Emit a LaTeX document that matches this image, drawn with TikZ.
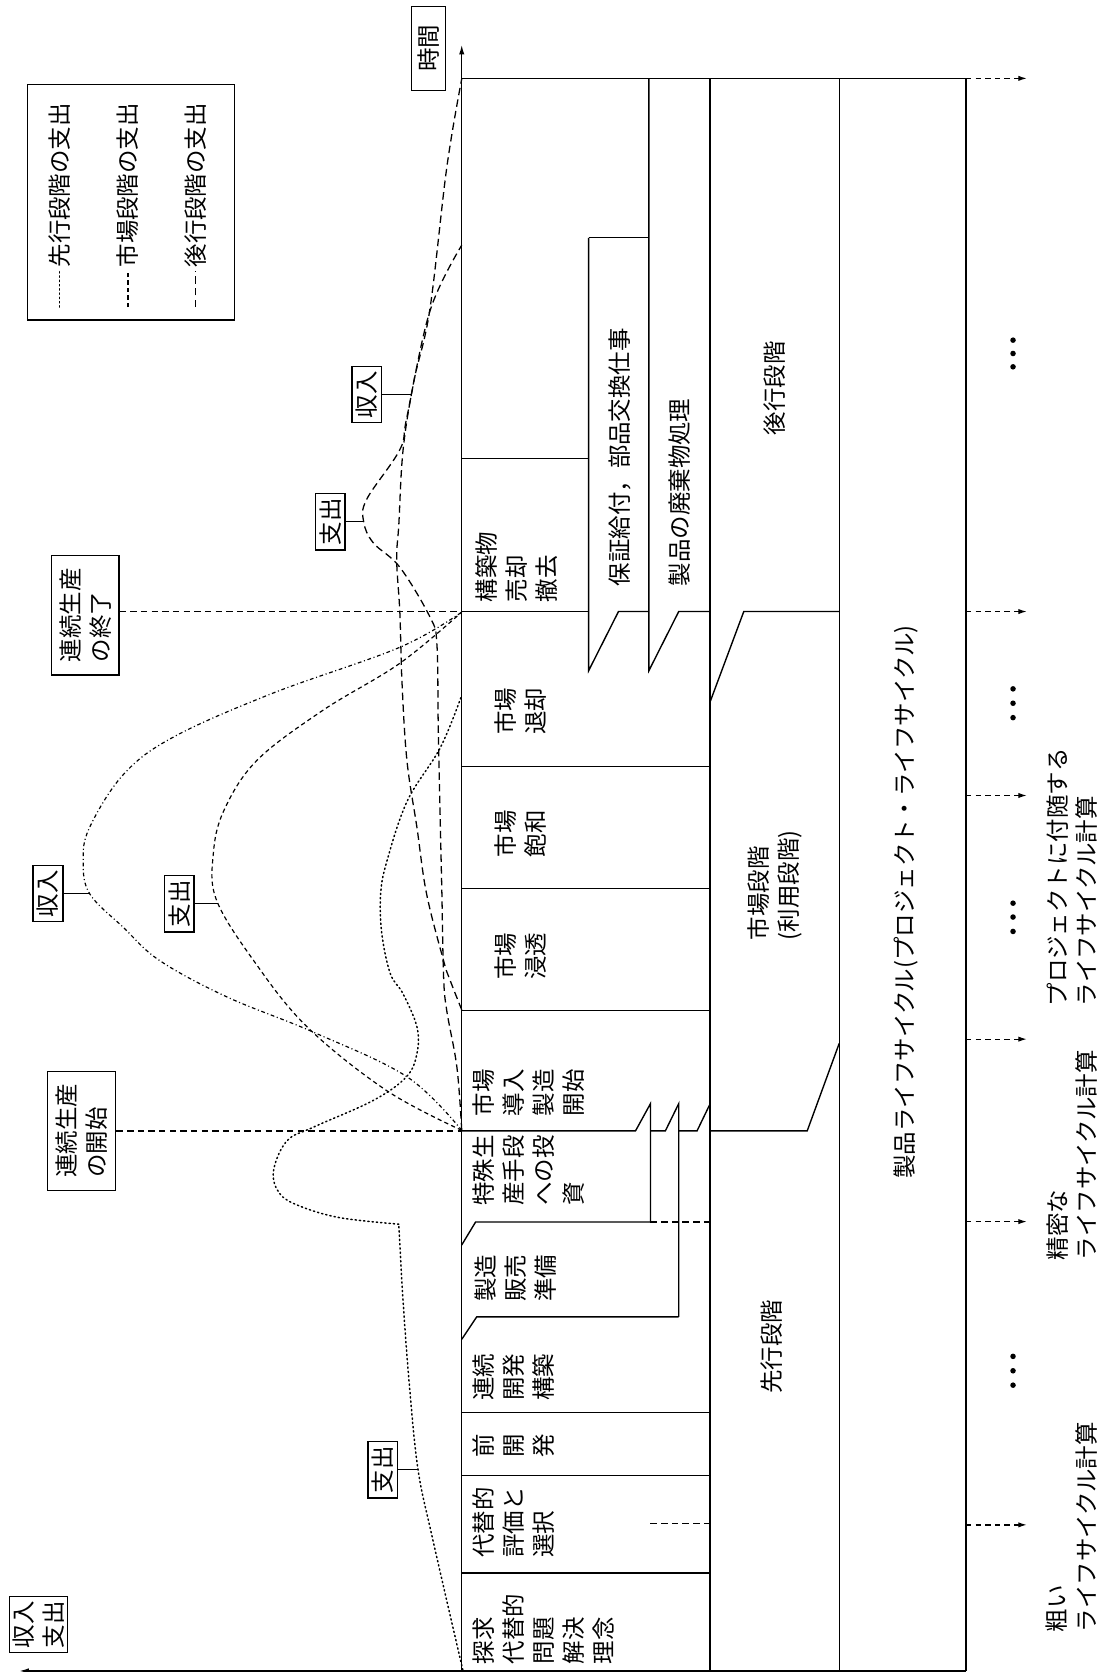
\documentclass[tikz,border=0pt]{standalone}
\usepackage{fontspec}
\setmainfont{Noto Sans CJK JP}
\usetikzlibrary{arrows.meta}
\begin{document}
\begin{tikzpicture}[x=1pt,y=-1pt,
  every node/.style={font=\fontsize{22}{28}\selectfont, inner sep=0pt},
  vlab/.style={rotate=90, align=left, anchor=north west},
  lbox/.style={draw, line width=1.2pt, rotate=90, minimum width=53pt, minimum height=28pt},
  frame/.style={line width=1.3pt},
  pre/.style={line width=1.4pt, dash pattern=on 1.2pt off 2.8pt, line cap=round},
  mkr/.style={line width=1.1pt, dash pattern=on 3.5pt off 2.5pt on 1pt off 2.5pt},
  mke/.style={line width=1.1pt, dash pattern=on 4pt off 3pt},
  post/.style={line width=1.2pt, dash pattern=on 7pt off 4pt},
  evline/.style={line width=1.3pt, dash pattern=on 6pt off 4pt},
  outarrow/.style={line width=1.2pt, dash pattern=on 5pt off 4pt, -{Latex[length=8pt,width=5pt]}},
  leader/.style={line width=1pt}]
\useasboundingbox (0,0) rectangle (1033,1568);

% ---------- structure ----------
\draw[frame] (433,73.5) -- (906,73.5);
\draw[frame] (433,1567) -- (906,1567);
\draw[frame,-{Latex[length=9pt,width=5pt]}] (433,1567) -- (433,42);
\draw[frame,-{Latex[length=9pt,width=5pt]}] (433,1567) -- (18,1567);
\draw[frame] (666,73.5) -- (666,1567);
\draw[frame] (787,73.5) -- (787,1567);
\draw[frame] (906,73.5) -- (906,1567);
\draw[frame] (608.5,73.5) -- (608.5,629) -- (636.5,573.5) -- (666,573.5);
\draw[frame] (552,223) -- (608.5,223);
\draw[frame] (552,223) -- (552,629) -- (580,573.5) -- (608.5,573.5);
\draw[frame] (433,430) -- (552,430);
\draw[frame] (433,573.5) -- (552,573.5);
\draw[frame] (666,658) -- (697.5,573.5) -- (787,573.5);
\draw[frame] (433,719) -- (666,719);
\draw[frame] (433,833) -- (666,833);
\draw[frame] (433,947.5) -- (666,947.5);
\draw[frame] (433,1060.5) -- (596,1060.5) -- (610,1035) -- (610,1146);
\draw[frame] (610,1060.5) -- (624,1060.5) -- (636.5,1035) -- (636.5,1235);
\draw[frame] (636.5,1060.5) -- (653.7,1060.5) -- (666,1035);
\draw[frame] (666,1060.5) -- (757,1060.5) -- (787,978.5);
\draw[frame] (610,1146) -- (446,1146) -- (433,1167.5);
\draw[evline] (610,1146) -- (666,1146);
\draw[frame] (636.5,1235) -- (447,1235) -- (433,1256);
\draw[frame] (433,1324.4) -- (666,1324.4);
\draw[frame] (433,1383.5) -- (666,1383.5);
\draw[frame] (433,1475) -- (666,1475);
\draw[evline] (610,1429) -- (666,1429);

% right dashed arrows and dots
\foreach \yy in {73.5,573.5,746,974.5,1145.6,1430}
  \draw[outarrow] (906,\yy) -- (963,\yy);
\foreach \yy in {319,331.5,344,646,659.5,673,847,860,873.5,1272,1285.5,1299}
  \fill (950,\yy) circle (2.6pt);

% ---------- column texts ----------
\node[vlab] (t1) at (443.5,1561) {探求\\代替的\\問題\\解決\\理念};
\node[vlab] (t2) at (443.5,1461) {代替的\\評価と\\選択};
\node[vlab] (t3) at (443.5,1367) {前\\開\\発};
\node[vlab] (t4) at (443.5,1314) {連続\\開発\\構築};
\node[vlab] (t5) at (445,1221) {製造\\販売\\準備};
\node[vlab] (t6) at (443.5,1131) {特殊生\\産手段\\への投\\資};
\node[vlab] (t7) at (443.5,1047) {市場\\導入\\製造\\開始};
\node[rotate=90, align=left] (t8) at (488,897) {市場\\浸透};
\node[rotate=90, align=left] (t9) at (488,782) {市場\\飽和};
\node[rotate=90, align=left] (t10) at (488,667) {市場\\退却};
\node[vlab] (t11) at (446,565) {構築物\\売却\\撤去};

\node[rotate=90, anchor=west] (hosho) at (581,550) {保証給付，部品交換仕事};
\node[rotate=90, anchor=west] (haiki) at (637.5,550) {製品の廃棄物処理};
\node[rotate=90] (kokou) at (726,364) {後行段階};
\node[vlab] (shijo) at (701,882) {市場段階\\(利用段階)};
\node[rotate=90] (senko) at (724,1263) {先行段階};
\node[rotate=90] (seihin) at (850,846) {製品ライフサイクル(プロジェクト・ライフサイクル)};

\node[vlab] (proj) at (981,944) {プロジェクトに付随する\\ライフサイクル計算};
\node[vlab] (seimitsu) at (981,1182) {精密な\\ライフサイクル計算};
\node[vlab] (arai) at (981,1531) {粗い\\ライフサイクル計算};

% ---------- legend ----------
\draw[line width=1.2pt] (26,79) rectangle (220,300);
\draw[pre] (56,288) -- (56,254);
\draw[mke] (120,288) -- (120,254);
\draw[post] (183,288) -- (183,254);
\node[rotate=90, anchor=west] (lg1) at (56,251) {先行段階の支出};
\node[rotate=90, anchor=west] (lg2) at (120,251) {市場段階の支出};
\node[rotate=90, anchor=west] (lg3) at (183,251) {後行段階の支出};

% ---------- label boxes ----------
\node[lbox, minimum width=79pt, minimum height=32pt] (jikan) at (402,45.5) {時間};
\node[lbox, minimum height=54pt, align=left] (axlab) at (36,1523.5) {収入\\支出};
\node[lbox] (shi1) at (359,1378.4) {支出};
\node[lbox] (shi2) at (168,847.6) {支出};
\node[lbox] (shu2) at (45,838) {収入};
\node[lbox] (shi3) at (309.6,489.2) {支出};
\node[lbox] (shu3) at (344,370) {収入};
\node[lbox, minimum width=112pt, minimum height=63pt, align=left] (owari) at (80,577) {連続生産\\の終了};
\node[lbox, minimum width=112pt, minimum height=64pt, align=left] (hajime) at (76.6,1060.6) {連続生産\\の開始};

% ---------- event lines ----------
\coordinate (e1) at (433,573.5);
\coordinate (e2) at (433,1060.5);
\draw[evline] (owari.south |- e1) -- (e1);
\draw[evline] (hajime.south |- e2) -- (e2);

% ---------- curves ----------
% pre-phase expenditure (dotted)
\draw[pre] plot[smooth, tension=0.6] coordinates {(434,1566) (405,1440) (392,1378) (384,1300) (378,1220) (374,1148)};
\draw[pre] plot[smooth, tension=0.6] coordinates {(374,1148) (319,1142) (281,1131) (262,1119) (256.5,1098) (269,1070) (294,1057) (350,1032) (381,1010) (391,988) (391,963) (378,932) (366,913) (358,875) (357,838) (363,807) (382,751) (413,701) (433,652)};
% market revenue
\draw[mkr] plot[smooth, tension=0.6] coordinates {(433,1060) (382,1010) (294,968) (213,935) (150,901) (116,870) (84,838) (78,807) (84,776) (116,726) (163,691) (256,650) (375,607) (433,574)};
% market expenditure
\draw[mke] plot[smooth, tension=0.6] coordinates {(433,1060) (363,1023) (288,963) (238,901) (203,844) (200,801) (210,760) (241,713) (303,666) (375,622) (433,574)};
% post-phase expenditure
\draw[post] plot[smooth, tension=0.6] coordinates {(433,1060) (428.5,1001) (419,948) (416,916) (414.4,838) (413,776) (411,682) (409.7,604) (403.4,579) (375,532) (350,509) (341,489) (344,468) (375,421.6) (381.6,391) (403.4,291) (433,230)};
% post-phase revenue
\draw[post] plot[smooth, tension=0.6] coordinates {(433,947) (422,919) (416,901) (400,838) (391,776) (381.6,713) (377,640) (375,575) (372,525) (374,492) (378,422) (388,358) (403,291) (419,157) (433,74)};

% ---------- leaders ----------
\coordinate (c1) at (391.7,1378.4);
\coordinate (c2) at (204,847.6);
\coordinate (c3) at (83,838);
\coordinate (c4) at (341,489.2);
\coordinate (c5) at (385,370);
\draw[leader] (shi1.south) -- (c1);
\draw[leader] (shi2.south) -- (c2);
\draw[leader] (shu2.south) -- (c3);
\draw[leader] (shi3.south) -- (c4);
\draw[leader] (shu3.south) -- (c5);
\end{tikzpicture}
\end{document}
